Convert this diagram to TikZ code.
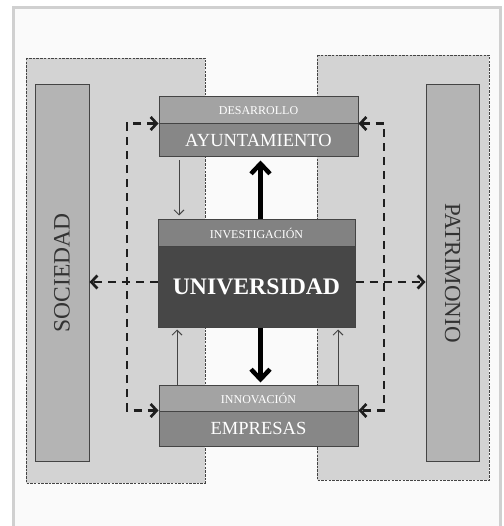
\documentclass[tikz,border=0pt]{standalone}
\usepackage{fontspec}
\setmainfont{Liberation Serif}
\usetikzlibrary{arrows.meta,calc}
\definecolor{bgc}{HTML}{FAFAFA}
\definecolor{framec}{HTML}{D0D0D0}
\definecolor{zonec}{HTML}{D3D3D3}
\definecolor{barc}{HTML}{B4B4B4}
\definecolor{hdrc}{HTML}{A3A3A3}
\definecolor{mainc}{HTML}{878787}
\definecolor{uhdrc}{HTML}{828282}
\definecolor{umainc}{HTML}{474747}
\definecolor{inkc}{HTML}{1E1E1E}
\definecolor{edgec}{HTML}{444444}
\tikzset{
  zone/.style={draw=edgec, line width=0.8pt, dash pattern=on 2.5pt off 1.2pt, fill=zonec},
  sidebar/.style={draw=edgec, line width=1pt, fill=barc, text=black!80, font=\fontsize{23}{23}\selectfont},
  hdrbox/.style={draw=edgec, line width=1pt, fill=hdrc, text=white, font=\fontsize{12}{12}\selectfont, inner sep=0pt},
  mainbox/.style={draw=edgec, line width=1pt, fill=mainc, text=white, font=\fontsize{18.5}{18.5}\selectfont, inner sep=0pt},
  dasharrow/.style={draw=inkc, line width=2.7pt, dash pattern=on 8pt off 6pt, -{Straight Barb[length=6pt,width=13pt]}},
  dashboth/.style={draw=inkc, line width=2.7pt, dash pattern=on 8pt off 6pt, {Straight Barb[length=6pt,width=13pt]}-{Straight Barb[length=6pt,width=13pt]}},
  bigarrow/.style={draw=black, line width=4.5pt, -{Straight Barb[length=10pt,width=19pt]}},
  thinarrow/.style={draw=edgec, line width=0.9pt, -{Straight Barb[length=5pt,width=10pt]}}
}
\begin{document}
\begin{tikzpicture}[x=1pt,y=-1pt]
\useasboundingbox (0,0) rectangle (503,526);
\clip (0,0) rectangle (503,526);
\fill[white] (0,0) rectangle (503,526);
\draw[framec, line width=3pt, fill=bgc] (13,8) rectangle (500,545);
% zones
\draw[zone] (26,58) rectangle (205,483);
\draw[zone] (317,55) rectangle (489,480);
% side bars
\node[sidebar, minimum width=54pt, minimum height=376pt, inner sep=0pt] (soc) at (62,273) {};
\node[rotate=90, text=black!80, font=\fontsize{23.5}{23.5}\selectfont] (soct) at (soc.center) {SOCIEDAD};
\node[sidebar, minimum width=53pt, minimum height=376pt, inner sep=0pt] (pat) at (452.5,273) {};
\node[rotate=-90, text=black!80, font=\fontsize{23}{23}\selectfont] (patt) at (pat.center) {PATRIMONIO};
% helper coordinates
\coordinate (lx) at (127,282);
\coordinate (rx) at (384,282);
\coordinate (ux) at (260.5,0);
\coordinate (ta) at (179,0);
\coordinate (tb) at (177,0);
\coordinate (tc) at (338,0);
% boxes
\node[hdrbox, minimum width=199pt, minimum height=27pt] (hdrA) at (258.5,110.5) {DESARROLLO};
\node[mainbox, minimum width=199pt, minimum height=33pt] (mainA) at (258.5,140.5) {AYUNTAMIENTO};
\node[hdrbox, fill=uhdrc, minimum width=197pt, minimum height=26pt] (hdrU) at (256.5,233) {INVESTIGACIÓN};
\node[mainbox, fill=umainc, minimum width=197pt, minimum height=81pt, font=\bfseries\fontsize{23.7}{23.7}\selectfont] (mainU) at (256.5,286.5) {UNIVERSIDAD};
\node[hdrbox, minimum width=199pt, minimum height=26pt] (hdrE) at (258.5,398) {INNOVACIÓN};
\node[mainbox, minimum width=199pt, minimum height=35pt] (mainE) at (258.5,428.5) {EMPRESAS};
% dashed connectors
\draw[dashboth] (mainA.north west) -| (lx) |- (mainE.north west);
\draw[dashboth] (mainA.north east) -| (rx) |- (mainE.north east);
\draw[dasharrow] (mainU.west |- lx) -- (soc.east |- lx);
\draw[dasharrow] (mainU.east |- rx) -- (pat.west |- rx);
% thick arrows
\draw[bigarrow, shorten >=3pt] (hdrU.north -| ux) -- (mainA.south -| ux);
\draw[bigarrow, shorten >=2pt] (mainU.south -| ux) -- (hdrE.north -| ux);
% thin arrows
\draw[thinarrow, shorten <=3pt, shorten >=4pt] (mainA.south -| ta) -- (hdrU.north -| ta);
\draw[thinarrow, shorten >=2pt] (hdrE.north -| tb) -- (mainU.south -| tb);
\draw[thinarrow, shorten >=2pt] (hdrE.north -| tc) -- (mainU.south -| tc);
\end{tikzpicture}
\end{document}
